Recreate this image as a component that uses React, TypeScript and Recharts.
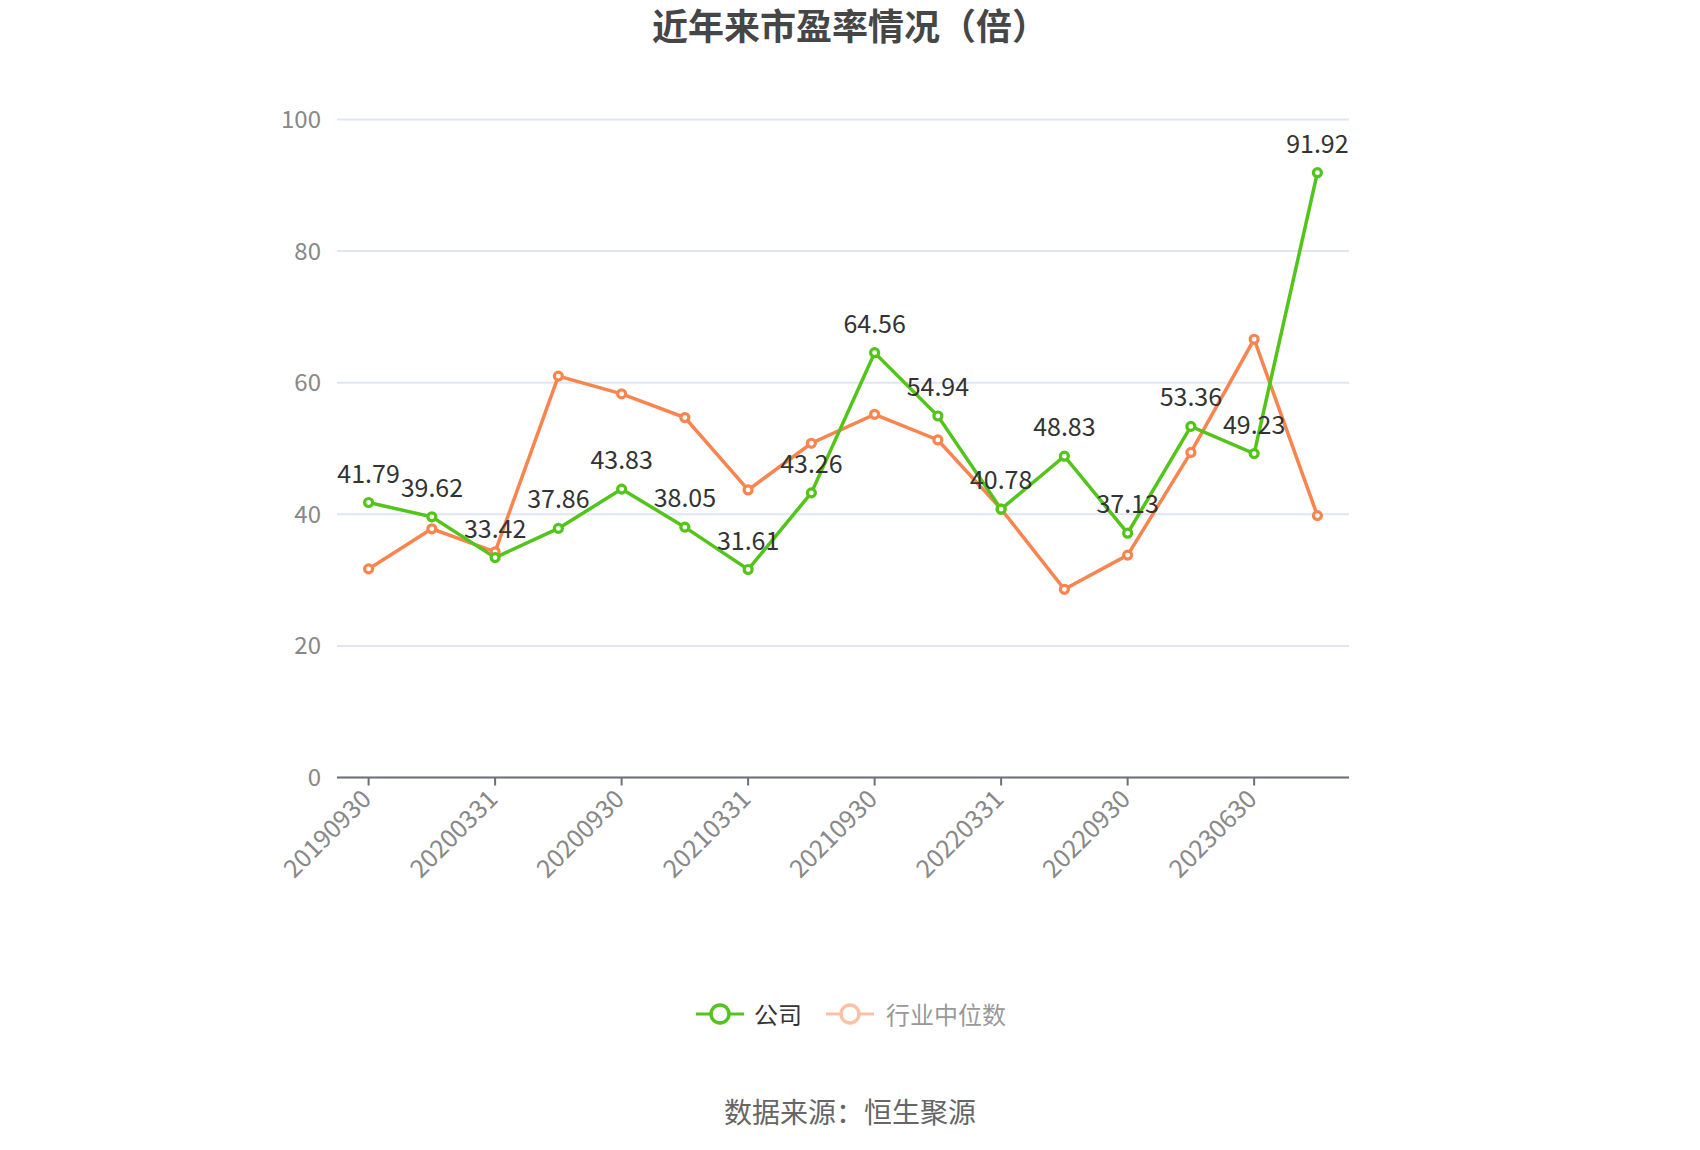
import React from "react";
import {
  LineChart,
  Line,
  XAxis,
  YAxis,
  CartesianGrid,
  LabelList,
} from "recharts";

const dates = [
  "20190930", "20191231", "20200331", "20200630", "20200930", "20201231",
  "20210331", "20210630", "20210930", "20211231", "20220331", "20220630",
  "20220930", "20230331", "20230630", "20230930",
];
const companyPE = [
  41.79, 39.62, 33.42, 37.86, 43.83, 38.05, 31.61, 43.26,
  64.56, 54.94, 40.78, 48.83, 37.13, 53.36, 49.23, 91.92,
];
const industryPE = [
  31.7, 37.8, 34.3, 61.0, 58.3, 54.7, 43.7, 50.8,
  55.2, 51.3, 40.8, 28.6, 33.8, 49.4, 66.6, 39.8,
];
const yTicks = [0, 20, 40, 60, 80, 100];

const chartData = dates.map((d, i) => ({
  date: d,
  company: companyPE[i],
  industry: industryPE[i],
}));

const GREEN = "#52c41a";
const ORANGE = "#f8854f";
const FONT = "'Noto Sans CJK SC', 'Noto Sans', sans-serif";

function XTick(props: any) {
  const { x, y, payload } = props;
  const tx = x - 2;
  const ty = y + 5;
  return (
    <text
      x={tx}
      y={ty}
      dy="0.35em"
      textAnchor="end"
      transform={`rotate(-45, ${tx}, ${ty})`}
      fill="#888"
      fontSize={25}
      fontFamily={FONT}
    >
      {payload.value}
    </text>
  );
}

function LegendIcon({ color, faded }: { color: string; faded?: boolean }) {
  return (
    <svg width={48} height={24} style={{ opacity: faded ? 0.5 : 1 }}>
      <line x1={0} y1={12} x2={48} y2={12} stroke={color} strokeWidth={3} />
      <circle cx={24} cy={12} r={9} fill="#fff" stroke={color} strokeWidth={3.5} />
    </svg>
  );
}

export default function App() {
  return (
    <div
      style={{
        position: "absolute",
        left: 0,
        top: 0,
        width: 1700,
        height: 1150,
        background: "#fff",
        fontFamily: FONT,
      }}
    >
      <div
        style={{
          position: "absolute",
          top: 2,
          left: 0,
          width: 1700,
          textAlign: "center",
          fontSize: 36,
          fontWeight: "bold",
          color: "#464646",
          lineHeight: "44px",
        }}
      >
        近年来市盈率情况（倍）
      </div>

      <LineChart
        width={1700}
        height={1150}
        data={chartData}
        margin={{ top: 119.5, right: 351, bottom: 272.5, left: 257 }}
      >
        <CartesianGrid
          vertical={false}
          stroke="#e0e6f1"
          strokeWidth={2}
        />
        <XAxis
          dataKey="date"
          interval={1}
          height={100}
          stroke="#6e7079"
          strokeWidth={2}
          tickSize={8}
          tickMargin={4}
          padding={{ left: 31.6, right: 31.6 }}
          tick={<XTick />}
        />
        <YAxis
          domain={[0, 100]}
          ticks={yTicks}
          width={80}
          axisLine={false}
          tickLine={false}
          tickSize={6}
          tickMargin={10}
          tick={{ fill: "#888", fontSize: 24, fontFamily: FONT }}
        />
        <Line
          dataKey="industry"
          stroke={ORANGE}
          strokeWidth={3.5}
          dot={{ r: 4, fill: "#fff", stroke: ORANGE, strokeWidth: 3.2 }}
          activeDot={false}
          isAnimationActive={false}
        />
        <Line
          dataKey="company"
          stroke={GREEN}
          strokeWidth={3.5}
          dot={{ r: 4, fill: "#fff", stroke: GREEN, strokeWidth: 3.2 }}
          activeDot={false}
          isAnimationActive={false}
        >
          <LabelList
            dataKey="company"
            position="top"
            offset={20}
            fill="#333"
            fontSize={25}
            fontFamily={FONT}
          />
        </Line>
      </LineChart>

      <div
        style={{
          position: "absolute",
          top: 996,
          left: 0,
          width: 1700,
          display: "flex",
          justifyContent: "center",
          alignItems: "center",
          fontSize: 24,
          lineHeight: "36px",
        }}
      >
        <div style={{ display: "flex", alignItems: "center", marginLeft: 2 }}>
          <LegendIcon color={GREEN} />
          <span style={{ color: "#333", marginLeft: 10 }}>公司</span>
        </div>
        <div style={{ display: "flex", alignItems: "center", marginLeft: 24 }}>
          <LegendIcon color={ORANGE} faded />
          <span style={{ color: "#999", marginLeft: 12 }}>行业中位数</span>
        </div>
      </div>

      <div
        style={{
          position: "absolute",
          top: 1091,
          left: 0,
          width: 1700,
          textAlign: "center",
          fontSize: 28,
          color: "#666",
          lineHeight: "40px",
        }}
      >
        数据来源：恒生聚源
      </div>
    </div>
  );
}
